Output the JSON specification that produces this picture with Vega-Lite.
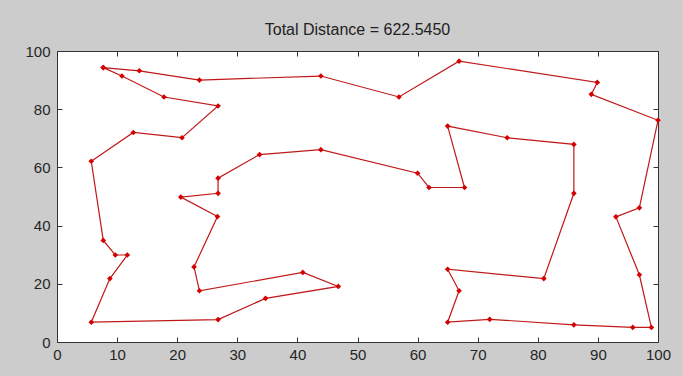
{
  "$schema": "https://vega.github.io/schema/vega-lite/v6.json",
  "width": 601,
  "height": 291,
  "autosize": "none",
  "padding": {"left": 57, "top": 51, "right": 25, "bottom": 34},
  "background": "#cccccc",
  "title": {"text": "Total Distance = 622.5450", "fontSize": 16, "fontWeight": "normal", "font": "Liberation Sans", "color": "#222222", "anchor": "middle", "offset": 6},
  "config": {
    "view": {"stroke": "#333333", "strokeWidth": 1, "fill": "white"},
    "axis": {"grid": false, "domain": false, "tickColor": "#333333", "tickSize": -5, "tickWidth": 1, "labelFont": "Liberation Sans", "labelFontSize": 15, "labelColor": "#262626", "labelFlush": false, "labelOverlap": false, "title": null}
  },
  "data": {"values": [
    {"o": 1, "x": 7.7, "y": 94.3},
    {"o": 2, "x": 13.7, "y": 93.2},
    {"o": 3, "x": 23.7, "y": 90.0},
    {"o": 4, "x": 43.9, "y": 91.4},
    {"o": 5, "x": 56.9, "y": 84.2},
    {"o": 6, "x": 66.9, "y": 96.5},
    {"o": 7, "x": 89.9, "y": 89.2},
    {"o": 8, "x": 88.9, "y": 85.1},
    {"o": 9, "x": 100.0, "y": 76.2},
    {"o": 10, "x": 96.9, "y": 46.1},
    {"o": 11, "x": 93.0, "y": 43.0},
    {"o": 12, "x": 96.9, "y": 23.1},
    {"o": 13, "x": 98.9, "y": 5.0},
    {"o": 14, "x": 95.8, "y": 5.0},
    {"o": 15, "x": 86.0, "y": 5.9},
    {"o": 16, "x": 72.0, "y": 7.8},
    {"o": 17, "x": 65.0, "y": 6.8},
    {"o": 18, "x": 66.9, "y": 17.6},
    {"o": 19, "x": 65.0, "y": 25.0},
    {"o": 20, "x": 81.0, "y": 21.8},
    {"o": 21, "x": 86.0, "y": 51.1},
    {"o": 22, "x": 86.0, "y": 67.9},
    {"o": 23, "x": 74.9, "y": 70.2},
    {"o": 24, "x": 65.0, "y": 74.2},
    {"o": 25, "x": 67.8, "y": 53.1},
    {"o": 26, "x": 61.9, "y": 53.1},
    {"o": 27, "x": 60.0, "y": 58.0},
    {"o": 28, "x": 43.9, "y": 66.1},
    {"o": 29, "x": 33.7, "y": 64.4},
    {"o": 30, "x": 26.8, "y": 56.3},
    {"o": 31, "x": 26.8, "y": 51.1},
    {"o": 32, "x": 20.6, "y": 49.8},
    {"o": 33, "x": 26.7, "y": 43.1},
    {"o": 34, "x": 22.8, "y": 25.8},
    {"o": 35, "x": 23.7, "y": 17.6},
    {"o": 36, "x": 40.9, "y": 23.9},
    {"o": 37, "x": 46.8, "y": 19.1},
    {"o": 38, "x": 34.7, "y": 15.0},
    {"o": 39, "x": 26.8, "y": 7.7},
    {"o": 40, "x": 5.7, "y": 6.8},
    {"o": 41, "x": 8.8, "y": 21.8},
    {"o": 42, "x": 11.7, "y": 29.9},
    {"o": 43, "x": 9.7, "y": 29.9},
    {"o": 44, "x": 7.7, "y": 34.9},
    {"o": 45, "x": 5.7, "y": 62.1},
    {"o": 46, "x": 12.7, "y": 72.0},
    {"o": 47, "x": 20.8, "y": 70.2},
    {"o": 48, "x": 26.8, "y": 81.1},
    {"o": 49, "x": 17.8, "y": 84.2},
    {"o": 50, "x": 10.8, "y": 91.4},
    {"o": 51, "x": 7.7, "y": 94.3}
  ]},
  "resolve": {"axis": {"x": "independent", "y": "independent"}},
  "layer": [
    {
      "mark": {"type": "line", "color": "#c01818", "strokeWidth": 1.2},
      "encoding": {
        "x": {"field": "x", "type": "quantitative", "scale": {"domain": [0, 100], "nice": false, "zero": false}, "axis": {"orient": "bottom", "values": [0, 10, 20, 30, 40, 50, 60, 70, 80, 90, 100], "labelPadding": 10}},
        "y": {"field": "y", "type": "quantitative", "scale": {"domain": [0, 100], "nice": false, "zero": false}, "axis": {"orient": "left", "values": [0, 20, 40, 60, 80, 100], "labelPadding": 12}},
        "order": {"field": "o", "type": "quantitative"}
      }
    },
    {
      "mark": {"type": "point", "shape": "diamond", "filled": true, "color": "#d40000", "size": 32, "opacity": 1},
      "encoding": {
        "x": {"field": "x", "type": "quantitative", "axis": {"orient": "top", "values": [0, 10, 20, 30, 40, 50, 60, 70, 80, 90, 100], "labels": false}},
        "y": {"field": "y", "type": "quantitative", "axis": {"orient": "right", "values": [0, 20, 40, 60, 80, 100], "labels": false}}
      }
    }
  ]
}
